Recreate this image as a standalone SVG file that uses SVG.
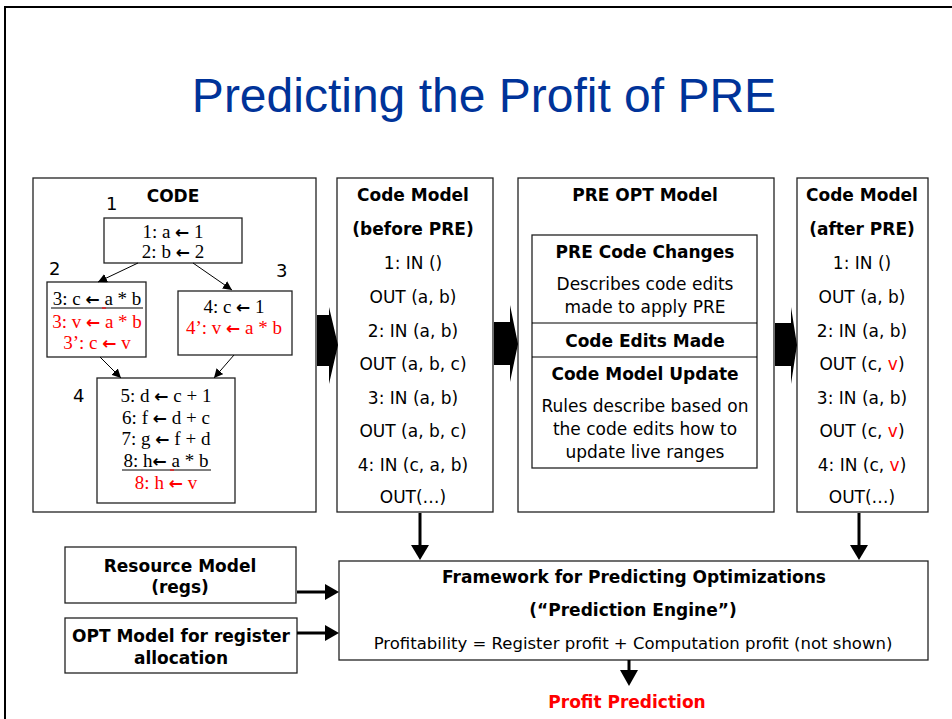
<svg xmlns="http://www.w3.org/2000/svg" width="952" height="719" viewBox="0 0 952 719">
<defs>
<style>
.box{fill:#fff;stroke:#222;stroke-width:1.3}
.frame{fill:none;stroke:#000;stroke-width:2}
.s{font-family:"DejaVu Sans",Verdana,sans-serif;font-size:17px;fill:#000;text-anchor:middle}
.b{font-weight:bold}
.t{font-family:"Liberation Serif","Times New Roman",serif;font-size:19px;fill:#000;text-anchor:middle}
.r,.t.r,.s.r,tspan.r{fill:#f00}
.ar{font-family:"DejaVu Sans",sans-serif;font-weight:bold;font-size:17px}
.lbl{font-family:"DejaVu Sans",Verdana,sans-serif;font-size:18px;fill:#000}
.thin{stroke:#000;stroke-width:1;fill:none;marker-end:url(#ah)}
.thick{stroke:#000;stroke-width:3;fill:none}
.u{stroke:#000;stroke-width:1.2}
</style>
<marker id="ah" viewBox="0 0 10 10" refX="10" refY="5" markerWidth="9" markerHeight="9" markerUnits="userSpaceOnUse" orient="auto">
<path d="M0,0 L10,5 L0,10 z" fill="#000"/>
</marker>
</defs>
<rect width="952" height="719" fill="#fff"/>
<rect class="frame" x="5" y="7" width="960" height="730"/>
<text x="484" y="112" style="font-family:'Liberation Sans',Arial,sans-serif;font-size:48px;fill:#003399;text-anchor:middle">Predicting the Profit of PRE</text>

<g id="code">
<rect class="box" x="33" y="178" width="283" height="334"/>
<text class="s b" x="173" y="202">CODE</text>
<text class="lbl" x="106" y="210">1</text>
<text class="lbl" x="49" y="275">2</text>
<text class="lbl" x="276" y="277">3</text>
<text class="lbl" x="73" y="402">4</text>
<g id="block1">
<rect class="box" x="104" y="218" width="138" height="45"/>
<text class="t" x="173" y="238">1: a <tspan class="ar">←</tspan> 1</text>
<text class="t" x="173" y="258">2: b <tspan class="ar">←</tspan> 2</text>
</g>
<g id="block2">
<rect class="box" x="47" y="282" width="99" height="75"/>
<text class="t" x="97" y="305">3: c <tspan class="ar">←</tspan> a * b</text>
<line class="u" x1="51" y1="308" x2="143" y2="308"/>
<line x1="102" y1="308" x2="106" y2="308" stroke="#f00" stroke-width="1.2"/>
<text class="t r" x="97" y="328">3: v <tspan class="ar">←</tspan> a * b</text>
<text class="t r" x="97" y="349">3’: c <tspan class="ar">←</tspan> v</text>
</g>
<g id="block3">
<rect class="box" x="178" y="291" width="114" height="64"/>
<text class="t" x="234" y="313">4: c <tspan class="ar">←</tspan> 1</text>
<text class="t r" x="234" y="334">4’: v <tspan class="ar">←</tspan> a * b</text>
</g>
<g id="block4">
<rect class="box" x="97" y="378" width="138" height="125"/>
<text class="t" x="166" y="402">5: d <tspan class="ar">←</tspan> c + 1</text>
<text class="t" x="166" y="424">6: f <tspan class="ar">←</tspan> d + c</text>
<text class="t" x="166" y="445">7: g <tspan class="ar">←</tspan> f + d</text>
<text class="t" x="166" y="467">8: h<tspan class="ar">←</tspan> a * b</text>
<line class="u" x1="122" y1="470" x2="211" y2="470"/>
<line x1="170" y1="470" x2="174" y2="470" stroke="#f00" stroke-width="1.2"/>
<text class="t r" x="166" y="489">8: h <tspan class="ar">←</tspan> v</text>
</g>
</g>

<g id="before">
<rect class="box" x="337" y="178" width="156" height="334"/>
<text class="s b" x="413" y="201">Code Model</text>
<text class="s b" x="413" y="235">(before PRE)</text>
<text class="s" x="413" y="269">1: IN ()</text>
<text class="s" x="413" y="303">OUT (a, b)</text>
<text class="s" x="413" y="337">2: IN (a, b)</text>
<text class="s" x="413" y="370">OUT (a, b, c)</text>
<text class="s" x="413" y="404">3: IN (a, b)</text>
<text class="s" x="413" y="437">OUT (a, b, c)</text>
<text class="s" x="413" y="471">4: IN (c, a, b)</text>
<text class="s" x="413" y="503">OUT(…)</text>
</g>

<g id="preopt">
<rect class="box" x="518" y="178" width="256" height="334"/>
<text class="s b" x="645" y="201">PRE OPT Model</text>
<rect class="box" x="532" y="235" width="225" height="233"/>
<line class="u" x1="532" y1="323" x2="757" y2="323"/>
<line class="u" x1="532" y1="357" x2="757" y2="357"/>
<text class="s b" x="645" y="258">PRE Code Changes</text>
<text class="s" x="645" y="290">Describes code edits</text>
<text class="s" x="645" y="313">made to apply PRE</text>
<text class="s b" x="645" y="347">Code Edits Made</text>
<text class="s b" x="645" y="380">Code Model Update</text>
<text class="s" x="645" y="412">Rules describe based on</text>
<text class="s" x="645" y="435">the code edits how to</text>
<text class="s" x="645" y="458">update live ranges</text>
</g>

<g id="after">
<rect class="box" x="797" y="178" width="131" height="334"/>
<text class="s b" x="862" y="201">Code Model</text>
<text class="s b" x="862" y="235">(after PRE)</text>
<text class="s" x="862" y="269">1: IN ()</text>
<text class="s" x="862" y="303">OUT (a, b)</text>
<text class="s" x="862" y="337">2: IN (a, b)</text>
<text class="s" x="862" y="370">OUT (c, <tspan class="r">v</tspan>)</text>
<text class="s" x="862" y="404">3: IN (a, b)</text>
<text class="s" x="862" y="437">OUT (c, <tspan class="r">v</tspan>)</text>
<text class="s" x="862" y="471">4: IN (c, <tspan class="r">v</tspan>)</text>
<text class="s" x="862" y="503">OUT(…)</text>
</g>

<g id="resource">
<rect class="box" x="65" y="547" width="231" height="56"/>
<text class="s b" x="180" y="572">Resource Model</text>
<text class="s b" x="180" y="593">(regs)</text>
</g>

<g id="optreg">
<rect class="box" x="65" y="618" width="232" height="55"/>
<text class="s b" x="181" y="642">OPT Model for register</text>
<text class="s b" x="181" y="664">allocation</text>
</g>

<g id="framework">
<rect class="box" x="339" y="561" width="589" height="99"/>
<text class="s b" x="634" y="583">Framework for Predicting Optimizations</text>
<text class="s b" x="633" y="616">(“Prediction Engine”)</text>
<text class="s" x="633" y="649" style="font-size:16.5px">Profitability = Register profit + Computation profit (not shown)</text>
</g>

<g id="result">
<text class="s b r" x="627" y="708">Profit Prediction</text>
</g>

<g id="connectors">
<line class="thin" x1="138" y1="263" x2="98" y2="282"/>
<line class="thin" x1="193" y1="263" x2="232" y2="290"/>
<line class="thin" x1="100" y1="357" x2="121" y2="378"/>
<line class="thin" x1="234" y1="355" x2="214" y2="378"/>
<polygon points="317,315 329,315 329,307 338,345 329,384 329,366 317,366" fill="#000"/>
<polygon points="494,322 510,322 510,305 518,344 510,382 510,365 494,365" fill="#000"/>
<polygon points="775,323 791,323 791,307 797,345 791,384 791,366 775,366" fill="#000"/>
<line class="thick" x1="420" y1="513" x2="420" y2="546"/>
<polygon points="411,545 429,545 420,560" fill="#000"/>
<line class="thick" x1="859" y1="513" x2="859" y2="546"/>
<polygon points="850,545 868,545 859,560" fill="#000"/>
<line class="thick" x1="297" y1="592" x2="326" y2="592"/>
<polygon points="325,584 325,600 339,592" fill="#000"/>
<line class="thick" x1="297" y1="633" x2="326" y2="633"/>
<polygon points="325,625 325,641 339,633" fill="#000"/>
<line class="thick" x1="629" y1="660" x2="629" y2="671"/>
<polygon points="620,670 638,670 629,686" fill="#000"/>
</g>
</svg>
